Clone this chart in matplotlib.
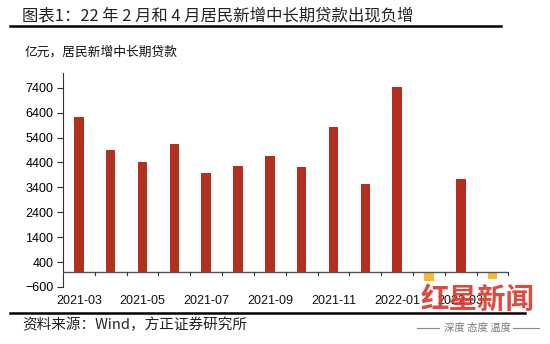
import matplotlib.pyplot as plt
import numpy as np
from matplotlib.lines import Line2D

plt.rcParams['font.family'] = ['Liberation Sans', 'Noto Sans CJK SC', 'DejaVu Sans']

months = ['2021-03', '2021-04', '2021-05', '2021-06', '2021-07', '2021-08', '2021-09',
          '2021-10', '2021-11', '2021-12', '2022-01', '2022-02', '2022-03', '2022-04']
loans = [6210, 4910, 4420, 5160, 3990, 4240, 4660, 4210, 5810, 3550, 7430, -380, 3740, -300]
yticks = [-600, 400, 1400, 2400, 3400, 4400, 5400, 6400, 7400]

red = '#B3301F'
orange = '#F6BC2F'

fig = plt.figure(figsize=(5.5, 3.44), dpi=100)
ax = fig.add_axes([0.1145, 0.166, 0.81, 0.622])

x = np.arange(len(months))
colors = [red if v >= 0 else orange for v in loans]
ax.bar(x, loans, width=0.3, color=colors, zorder=2)

ax.set_xlim(-0.5, len(months) - 0.5)
ax.set_ylim(-600, 8000)
ax.set_yticks(yticks)
ax.tick_params(axis='y', labelsize=9, length=4, width=0.8, color='#333333', pad=3)

for s in ['top', 'right', 'bottom']:
    ax.spines[s].set_visible(False)
ax.spines['left'].set_color('#333333')
ax.spines['left'].set_linewidth(0.8)

# zero line with ticks between the bars
ax.axhline(0, color='#555555', lw=1.0, zorder=3)
ax.set_xticks([])
for b in np.arange(-0.5, len(months), 1.0)[1:]:
    ax.plot([b, b], [0, -110], color='#333333', lw=0.8, clip_on=False, zorder=3)
for i in range(0, len(months), 2):
    ax.text(i, -1150, months[i], ha='center', va='center', fontsize=9, color='#111111')

fig.text(0.04, 0.955, '图表1：22 年 2 月和 4 月居民新增中长期贷款出现负增',
         fontsize=11.8, fontweight='medium', color='#222222', ha='left', va='center',
         family=['Noto Sans CJK SC'])
fig.add_artist(Line2D([0.018, 0.91], [0.923, 0.923], color='black', lw=1.8))
fig.text(0.045, 0.848, '亿元，居民新增中长期贷款', fontsize=9.2, color='#111111',
         ha='left', va='center', family=['Noto Sans CJK SC'])

fig.add_artist(Line2D([0.018, 0.955], [0.09, 0.09], color='black', lw=1.8))
fig.text(0.04, 0.055, '资料来源：Wind，方正证券研究所', fontsize=10.5, color='#222222',
         ha='left', va='center', style='italic', family=['Noto Sans CJK SC'])

# watermark
fig.text(0.869, 0.128, '红星新闻', fontsize=20.5, color='#D9362B', alpha=0.9,
         ha='center', va='center', fontweight='bold', family=['Noto Sans CJK SC'])
fig.text(0.869, 0.047, '深度 态度 温度', fontsize=7.5, color='#777777',
         ha='center', va='center', family=['Noto Sans CJK SC'])
fig.add_artist(Line2D([0.758, 0.798], [0.047, 0.047], color='#888888', lw=0.8))
fig.add_artist(Line2D([0.933, 0.98], [0.047, 0.047], color='#888888', lw=0.8))

fig.savefig('out.png', dpi=100)
